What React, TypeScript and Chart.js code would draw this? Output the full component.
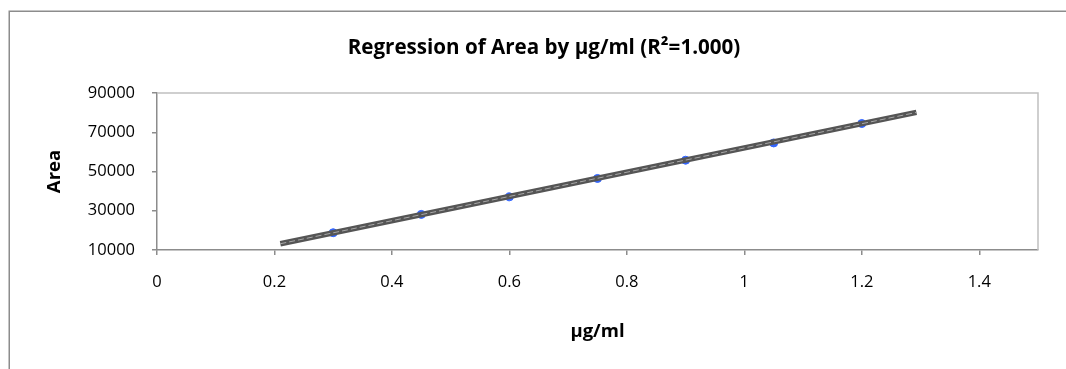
import React, { useEffect, useRef } from "react";
import { Chart, registerables } from "chart.js";

Chart.register(...registerables);

const concentrations = [0.3, 0.45, 0.6, 0.75, 0.9, 1.05, 1.2];
const areas = [18800, 28150, 37100, 46450, 55750, 64550, 74450];
const trendX = [0.21, 1.293];
const trendY = [13200, 80100];
const xTicks = [0, 0.2, 0.4, 0.6, 0.8, 1, 1.2, 1.4];
const yTicks = [10000, 30000, 50000, 70000, 90000];
const titleText = "Regression of Area by µg/ml (R²=1.000)";
const xTitle = "µg/ml";
const yTitle = "Area";

const FONT = "'Open Sans', 'Liberation Sans', sans-serif";

const framePlugin = {
  id: "frame",
  beforeDraw(chart: any) {
    const { ctx, width, height } = chart;
    ctx.save();
    ctx.fillStyle = "#ffffff";
    ctx.fillRect(0, 0, width, height);
    ctx.strokeStyle = "#8c8c8c";
    ctx.lineWidth = 1.5;
    ctx.strokeRect(9.25, 11.25, width + 20, height + 20);
    ctx.restore();
  },
  afterDraw(chart: any) {
    const { ctx, chartArea } = chart;
    ctx.save();
    ctx.strokeStyle = "#c0c0c0";
    ctx.lineWidth = 1.5;
    ctx.beginPath();
    ctx.moveTo(chartArea.left, chartArea.top);
    ctx.lineTo(chartArea.right, chartArea.top);
    ctx.lineTo(chartArea.right, chartArea.bottom);
    ctx.stroke();
    ctx.fillStyle = "#000";
    ctx.font = `bold 20.6px ${FONT}`;
    ctx.textAlign = "center";
    ctx.textBaseline = "middle";
    ctx.fillText(titleText, 544, 48);
    ctx.restore();
  },
};

export default function App() {
  const ref = useRef<HTMLCanvasElement | null>(null);
  useEffect(() => {
    if (!ref.current) return;
    const pts = concentrations.map((x, i) => ({ x, y: areas[i] }));
    const trend = trendX.map((x, i) => ({ x, y: trendY[i] }));
    const chart = new Chart(ref.current, {
      type: "scatter",
      data: {
        datasets: [
          {
            data: trend,
            showLine: true,
            borderColor: "#a8a8a8",
            borderWidth: 1,
            borderDash: [6, 3],
            pointRadius: 0,
            order: 1,
          } as any,
          {
            data: trend,
            showLine: true,
            borderColor: "#555555",
            borderWidth: 5.5,
            pointRadius: 0,
            order: 2,
          } as any,
          {
            data: pts,
            backgroundColor: "#3366ff",
            borderColor: "#3366ff",
            pointRadius: 4,
            order: 3,
          },
        ],
      },
      options: {
        responsive: false,
        animation: false,
        layout: { padding: { left: 40, right: 28, top: 93, bottom: 0 } },
        plugins: {
          legend: { display: false },
          title: { display: false },
          tooltip: { enabled: false },
        },
        scales: {
          x: {
            type: "linear",
            min: 0,
            max: 1.5,
            afterBuildTicks: (s: any) => {
              s.ticks = xTicks.map((v) => ({ value: v }));
            },
            afterFit: (s: any) => {
              s.height = 119;
            },
            ticks: {
              font: { family: FONT, size: 16.5 },
              color: "#000",
              padding: 17,
              maxRotation: 0,
              callback: (v: any) => String(v),
            },
            grid: {
              display: true,
              drawOnChartArea: false,
              drawTicks: true,
              tickLength: 5,
              color: "#8c8c8c",
              lineWidth: 1.5,
            },
            border: { display: true, color: "#8c8c8c", width: 1.5 },
            title: {
              display: true,
              text: xTitle,
              color: "#000",
              font: { family: FONT, size: 18.5, weight: "bold" },
              padding: { top: 0, bottom: 26 },
            },
          },
          y: {
            type: "linear",
            min: 10000,
            max: 90000,
            afterBuildTicks: (s: any) => {
              s.ticks = yTicks.map((v) => ({ value: v }));
            },
            afterFit: (s: any) => {
              s.width = 117;
            },
            ticks: {
              font: { family: FONT, size: 16.5 },
              color: "#000",
              padding: 17,
              callback: (v: any) => String(v),
            },
            grid: {
              display: true,
              drawOnChartArea: false,
              drawTicks: true,
              tickLength: 5,
              color: "#8c8c8c",
              lineWidth: 1.5,
            },
            border: { display: true, color: "#8c8c8c", width: 1.5 },
            title: {
              display: true,
              text: yTitle,
              color: "#000",
              font: { family: FONT, size: 18.5, weight: "bold" },
              padding: { top: 4, bottom: 0 },
            },
          },
        },
      },
      plugins: [framePlugin],
    });
    return () => chart.destroy();
  }, []);
  return (
    <div style={{ position: "fixed", left: 0, top: 0 }}>
      <canvas ref={ref} width={1066} height={369} style={{ display: "block" }} />
    </div>
  );
}
